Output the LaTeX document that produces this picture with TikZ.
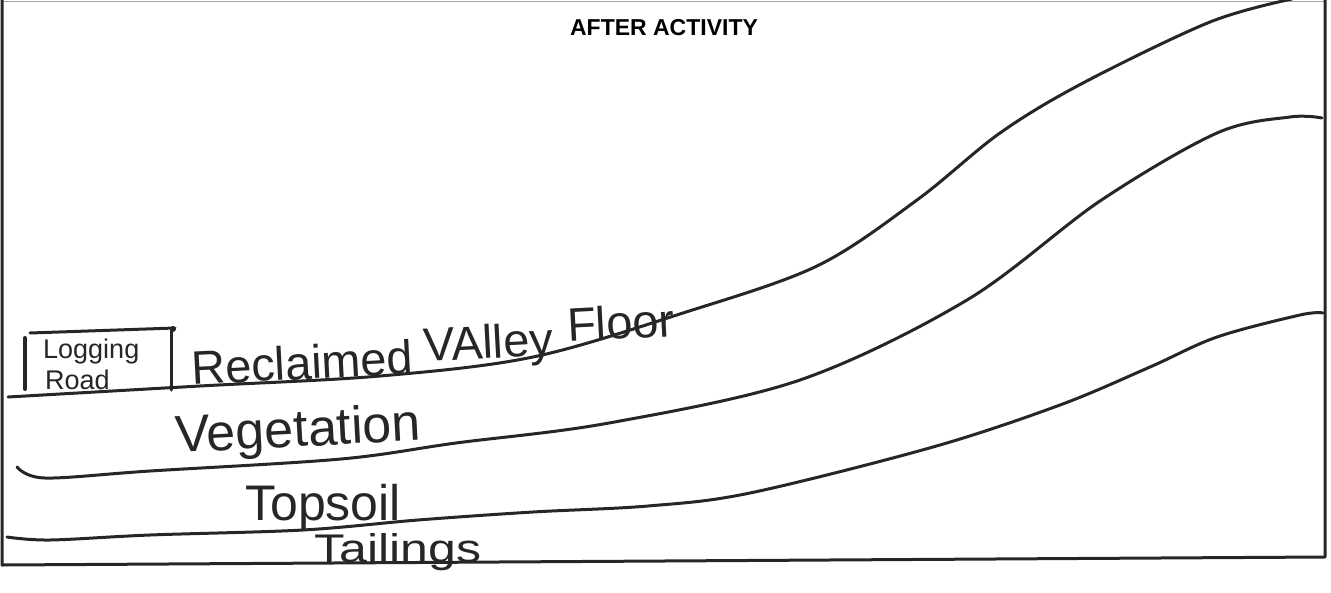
\documentclass[tikz,border=0pt]{standalone}
\usepackage{fontspec}
\setmainfont{Liberation Sans}
\begin{document}
\begin{tikzpicture}[x=1pt,y=-1pt,
  ink/.style={line width=3pt,line cap=round,line join=round,color=black!85},
  hand/.style={inner sep=0pt,anchor=base west,color=black!85},
  titlestyle/.style={inner sep=0pt,font=\fontsize{23}{25}\selectfont\bfseries}]
\useasboundingbox (0,0) rectangle (1331,592);
% frame
\draw[line width=1pt,black!35] (2,1) -- (1325,1);
\draw[ink,line width=3pt,line cap=butt] (2,0) -- (2,565) -- (1325,557) -- (1325,0);
% title
\node[titlestyle] (title) at (664,28) {AFTER ACTIVITY};
% surface: reclaimed valley floor
\draw[ink] plot[smooth,tension=0.55] coordinates {(8,397) (200,386) (380,376) (533,357) (683,313) (817,266) (917,200) (1000,133) (1083,83) (1210,22) (1292,-1)};
% vegetation / topsoil boundary
\draw[ink] plot[smooth,tension=0.55] coordinates {(17,467) (45,478) (150,471) (341,459) (456,443) (609,423) (800,380) (967,300) (1100,201) (1217,133) (1290,117) (1322,118)};
% topsoil / tailings boundary
\draw[ink] plot[smooth,tension=0.55] coordinates {(7,537) (50,540) (150,535) (303,530) (418,520) (533,512) (648,506) (750,493) (933,447) (1060,405) (1150,367) (1217,337) (1300,315) (1323,313)};
% logging road box
\draw[ink,line width=4pt] (25,338) -- (25,389);
\draw[ink] (30,333) -- (175,328);
\draw[ink] (171,329) -- (171,390);
\fill[black!85] (173,329) circle (3pt);
\node[hand,font=\fontsize{27}{28}\selectfont] (logging) at (43,358) {Logging};
\node[hand,font=\fontsize{27}{28}\selectfont] (road) at (45,389) {Road};
% labels
\node[hand,rotate=3,font=\fontsize{47}{50}\selectfont] (reclaimed) at (192,385) {Reclaimed};
\node[hand,rotate=3,font=\fontsize{47}{50}\selectfont] (valley) at (424,362) {VAlley};
\node[hand,rotate=3,font=\fontsize{47}{50}\selectfont] (floor) at (568,342) {Floor};
\node[hand,rotate=3,font=\fontsize{52}{56}\selectfont] (veg) at (176,453) {Vegetation};
\node[hand,font=\fontsize{50}{54}\selectfont] (topsoil) at (245,520) {Topsoil};
\node[hand,xscale=1.25,font=\fontsize{40}{44}\selectfont] (tailings) at (314,562) {Tailings};
\end{tikzpicture}
\end{document}
